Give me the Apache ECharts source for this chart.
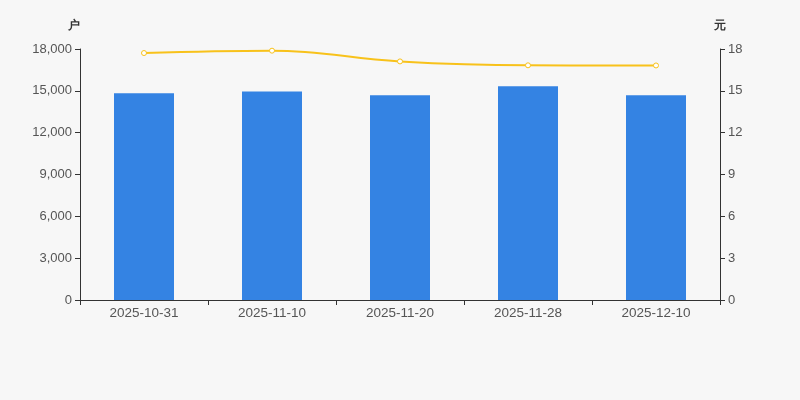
<!DOCTYPE html>
<html><head><meta charset="utf-8">
<script src="https://cdn.jsdelivr.net/npm/echarts@6/dist/echarts.min.js"></script>
<style>html,body{margin:0;padding:0;background:#f7f7f7}#c{width:800px;height:400px}</style>
</head><body><div id="c"></div>
<script>
var categories = ['2025-10-31','2025-11-10','2025-11-20','2025-11-28','2025-12-10'];
var holders = [14830, 14950, 14690, 15330, 14690];
var avgPrice = [17.71, 17.88, 17.11, 16.83, 16.82];
var leftTicks = {min: 0, max: 18000, interval: 3000};
var rightTicks = {min: 0, max: 18, interval: 3};

var chart = echarts.init(document.getElementById('c'));
var axisTxt = {color: '#555', fontSize: 13, fontFamily: 'Arial, Liberation Sans, sans-serif'};
chart.setOption({
  backgroundColor: '#f7f7f7',
  animation: false,
  grid: {left: 80, right: 80, top: 49, bottom: 100},
  xAxis: {
    type: 'category', data: categories,
    axisLine: {lineStyle: {color: '#333'}},
    axisTick: {show: true, lineStyle: {color: '#333'}},
    axisLabel: Object.assign({margin: 6}, axisTxt, {fontSize: 13.5})
  },
  yAxis: [{
    type: 'value', name: '户', min: leftTicks.min, max: leftTicks.max, interval: leftTicks.interval,
    nameTextStyle: {color: '#333', fontSize: 12, fontWeight: 'bold', align: 'center', padding: [0, 0, 0, -12]},
    nameGap: 17,
    axisLine: {show: true, lineStyle: {color: '#333'}},
    axisTick: {show: true, lineStyle: {color: '#333'}},
    splitLine: {show: false},
    axisLabel: Object.assign({formatter: function(v){return v.toLocaleString('en-US');}}, axisTxt)
  }, {
    type: 'value', name: '元', min: rightTicks.min, max: rightTicks.max, interval: rightTicks.interval,
    nameTextStyle: {color: '#333', fontSize: 12, fontWeight: 'bold', align: 'center', padding: [0, 0, 0, 0]},
    nameGap: 17,
    axisLine: {show: true, lineStyle: {color: '#333'}},
    axisTick: {show: true, lineStyle: {color: '#333'}},
    splitLine: {show: false},
    axisLabel: axisTxt
  }],
  series: [{
    type: 'bar', data: holders, yAxisIndex: 0, barWidth: 60,
    itemStyle: {color: '#3483e3'}
  }, {
    type: 'line', data: avgPrice, yAxisIndex: 1, smooth: 0.4,
    symbol: 'circle', symbolSize: 5,
    lineStyle: {color: '#f8c21b', width: 2},
    itemStyle: {color: '#ffffff', borderColor: '#f8c21b', borderWidth: 1}
  }]
});
</script></body></html>
